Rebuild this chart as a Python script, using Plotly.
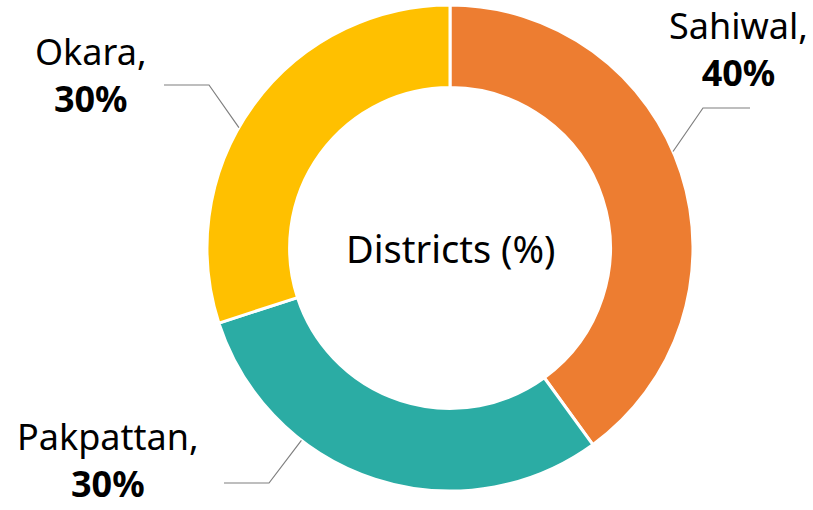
import math
import plotly.graph_objects as go

# Data
districts = ["Sahiwal", "Pakpattan", "Okara"]
shares = [40, 30, 30]
colors = ["#ED7D31", "#2BACA4", "#FFC000"]
center_title = "Districts (%)"

W, H = 813, 510
CX, CY, R = 450, 248, 243  # pie centre / radius in px

fig = go.Figure(go.Pie(
    labels=districts, values=shares, sort=False, direction="clockwise", rotation=0,
    hole=0.66, marker=dict(colors=colors, line=dict(color="white", width=3)),
    textinfo="none", hoverinfo="label+percent", showlegend=False,
    domain=dict(x=[(CX - R) / W, (CX + R) / W], y=[1 - (CY + R) / H, 1 - (CY - R) / H]),
))

FONT = "Noto Sans, Open Sans, sans-serif"

def px2paper(x, y):
    return x / W, 1 - y / H

# label layout: (anchor angle deg clockwise from top on outer arc, elbow px, end px, text centre px)
label_layout = {
    "Sahiwal": (66.6, (703, 108), (750, 108), (738, 49)),
    "Pakpattan": (217.7, (269, 483), (224, 483), (108, 460)),
    "Okara": (299.7, (209, 85), (164, 85), (91, 75)),
}

total = sum(shares)
annotations = []
shapes = []
for name, val in zip(districts, shares):
    ang, elbow, end, tpos = label_layout[name]
    a = math.radians(ang)
    sx, sy = CX + R * math.sin(a), CY - R * math.cos(a)
    pts = [px2paper(sx, sy), px2paper(*elbow), px2paper(*end)]
    path = "M {} {} L {} {} L {} {}".format(pts[0][0], pts[0][1], pts[1][0], pts[1][1], pts[2][0], pts[2][1])
    shapes.append(dict(type="path", xref="paper", yref="paper", path=path,
                       line=dict(color="#7F7F7F", width=1.2)))
    tx, ty = px2paper(*tpos)
    pct = round(100 * val / total)
    annotations.append(dict(x=tx, y=ty, xref="paper", yref="paper", showarrow=False,
                            text=f"{name},<br><b>{pct}%</b>", align="center",
                            xanchor="center", yanchor="middle",
                            font=dict(family=FONT, size=36, color="black")))

cx, cy = px2paper(CX, CY)
annotations.append(dict(x=cx, y=cy, xref="paper", yref="paper", showarrow=False,
                        text=center_title, xanchor="center", yanchor="middle",
                        font=dict(family=FONT, size=38, color="black")))

fig.update_layout(width=W, height=H, margin=dict(l=0, r=0, t=0, b=0),
                  paper_bgcolor="white", plot_bgcolor="white",
                  annotations=annotations, shapes=shapes)
fig.write_html("out.html", config={"displayModeBar": False},
               post_script="document.body.style.margin='0';document.body.style.overflow='hidden';")
